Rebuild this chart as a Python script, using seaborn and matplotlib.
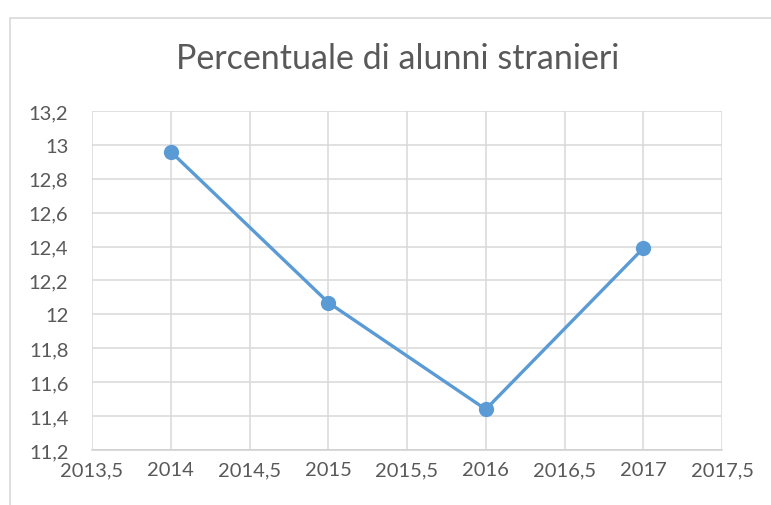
import matplotlib
matplotlib.use("Agg")
import matplotlib.pyplot as plt
import seaborn as sns
import pandas as pd
from matplotlib.ticker import FuncFormatter, MultipleLocator
from matplotlib.patches import Rectangle

years = [2014, 2015, 2016, 2017]
percent = [12.96, 12.07, 11.44, 12.39]

sns.set_theme(style="white")
plt.rcParams['font.family'] = ['Lato', 'DejaVu Sans']

W, H = 771, 506
fig = plt.figure(figsize=(W / 100, H / 100), dpi=100)
fig.patch.set_facecolor("white")
ax = fig.add_axes([92 / W, 1 - 451 / H, (722 - 92) / W, (451 - 112) / H])

df = pd.DataFrame({"anno": years, "perc": percent})
sns.lineplot(data=df, x="anno", y="perc", ax=ax, color="#5B9BD5", linewidth=2.4,
             marker="o", markersize=11, markeredgecolor="#5B9BD5", markeredgewidth=0)

ax.set_xlim(2013.5, 2017.5)
ax.set_ylim(11.2, 13.2)
ax.xaxis.set_major_locator(MultipleLocator(0.5))
ax.yaxis.set_major_locator(MultipleLocator(0.2))

def fmt(v, pos):
    s = f"{v:.1f}"
    if s.endswith(".0"):
        s = s[:-2]
    return s.replace(".", ",")

ax.xaxis.set_major_formatter(FuncFormatter(fmt))
ax.yaxis.set_major_formatter(FuncFormatter(fmt))
ax.set_xlabel("")
ax.set_ylabel("")
ax.grid(True, color="#D9D9D9", linewidth=1.1)
ax.set_axisbelow(True)
for side in ["top", "right", "left"]:
    ax.spines[side].set_visible(False)
ax.spines["bottom"].set_color("#D0D0D0")
ax.spines["bottom"].set_linewidth(1.1)
ax.tick_params(axis="both", length=0, labelsize=14.5, colors="#595959")
ax.tick_params(axis="y", pad=17)
ax.tick_params(axis="x", pad=8)

fig.text(398 / W, 1 - 59 / H, "Percentuale di alunni stranieri", ha="center", va="center",
         fontsize=24.5, color="#595959")

fig.patches.append(Rectangle((9.5 / W, -0.05), 1.2, 1 - 19 / H + 0.05, transform=fig.transFigure,
                             fill=False, edgecolor="#D9D9D9", linewidth=1.2))

fig.savefig("out.png", dpi=100)
